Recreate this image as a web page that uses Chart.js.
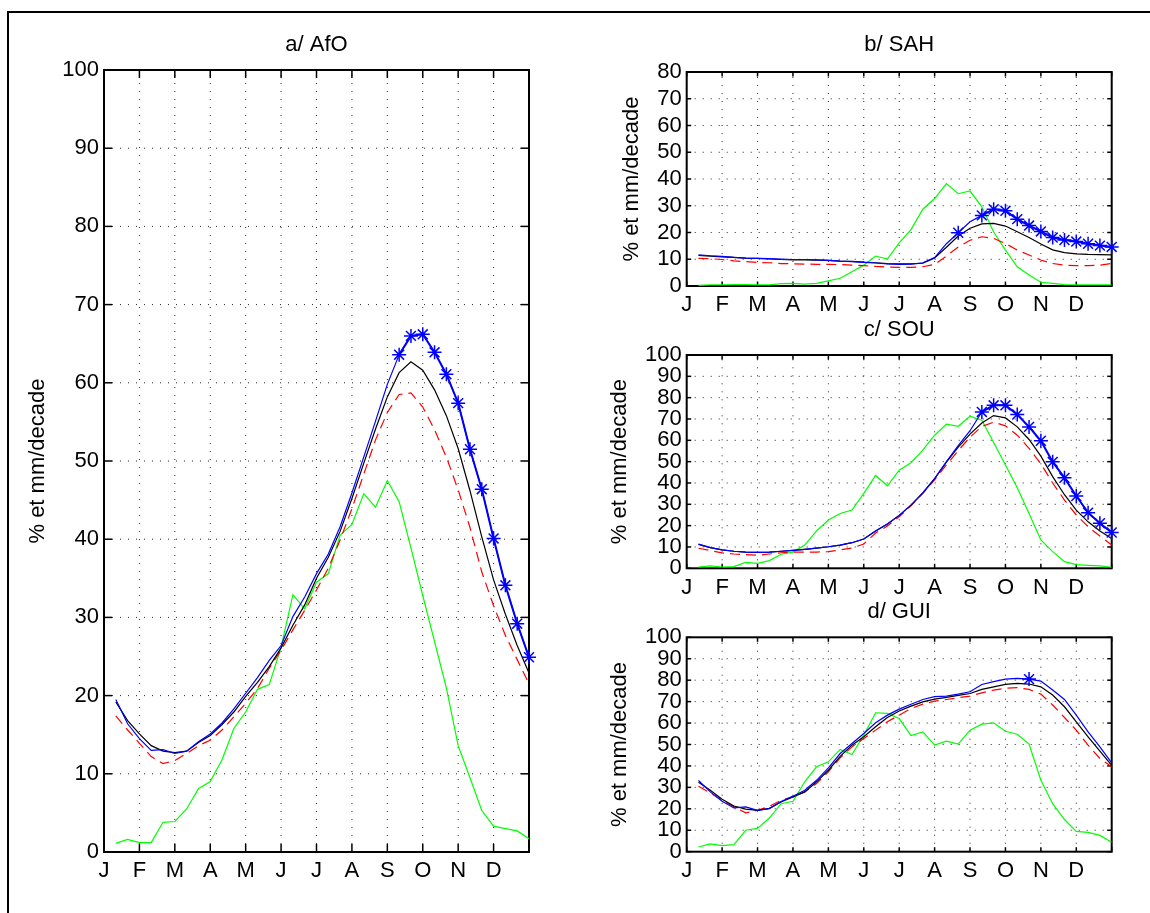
<!DOCTYPE html>
<html><head><meta charset="utf-8">
<script src="https://cdn.jsdelivr.net/npm/chart.js@4.4.1/dist/chart.umd.min.js"></script>
<style>
html,body{margin:0;padding:0;background:#fff;width:1150px;height:913px;overflow:hidden;position:relative;}
canvas{position:absolute;}
#frame{position:absolute;left:7px;top:11px;width:1200px;height:1000px;border-top:2px solid #000;border-left:2px solid #000;box-sizing:border-box;}
</style></head><body>
<div id="frame"></div>
<canvas id="ca" width="560" height="913" style="left:0px;top:0px"></canvas>
<canvas id="cb" width="570" height="330" style="left:580px;top:0px"></canvas>
<canvas id="cc" width="570" height="300" style="left:580px;top:300px"></canvas>
<canvas id="cd" width="570" height="328" style="left:580px;top:585px"></canvas>
<script>
// ---- data ----
const monthLabels = ['J','F','M','A','M','J','J','A','S','O','N','D'];
const decades = [1,2,3,4,5,6,7,8,9,10,11,12,13,14,15,16,17,18,19,20,21,22,23,24,25,26,27,28,29,30,31,32,33,34,35,36];
const yTitle = '% et mm/decade';

// a/ AfO
const greenA = [1.1,1.6,1.2,1.2,3.8,3.9,5.5,8.1,9.0,11.8,15.8,17.9,20.8,21.4,26.2,32.9,31.1,34.5,35.6,40.5,41.9,45.8,44.1,47.5,44.8,38.9,32.8,26.9,21.0,13.6,9.5,5.3,3.3,3.0,2.7,1.7];
const redA   = [17.4,15.6,13.9,12.2,11.3,11.7,12.6,13.6,14.3,15.6,17.3,19.0,20.9,23.5,25.8,28.4,30.9,33.5,36.3,39.9,43.9,48.3,52.7,56.2,58.5,58.7,56.9,54.0,50.5,46.3,41.5,35.8,31.5,27.7,24.6,21.5];
const blackA = [19.2,16.8,15.1,13.6,12.9,12.7,12.9,14.0,14.9,16.3,17.9,19.9,21.7,23.7,26.1,29.0,31.6,35.0,37.7,41.0,45.2,49.7,54.1,58.2,61.3,62.7,61.6,59.1,55.8,51.6,46.2,40.3,34.8,30.4,26.4,22.9];
const blueA  = [19.5,16.4,14.5,13.0,13.1,12.6,12.9,14.1,15.1,16.5,18.3,20.3,22.3,24.5,26.4,30.1,32.6,35.6,38.1,41.6,45.9,50.5,55.1,59.8,63.6,66.0,66.2,63.9,61.1,57.4,51.5,46.4,40.1,34.1,29.2,24.9];
const starsA = [25,26,27,28,29,30,31,32,33,34,35,36];

// b/ SAH
const greenB = [0.25,0.4,0.4,0.5,0.5,0.4,0.4,0.9,1.0,0.7,1.0,1.9,2.9,5.3,7.8,11.2,10.1,16.1,21.1,28.7,32.7,38.3,34.5,35.5,29.6,20.2,13.4,7.2,4.1,1.4,1.0,0.5,0.4,0.4,0.4,0.4];
const redB   = [10.3,10.2,9.9,9.4,9.1,8.8,8.7,8.4,8.3,8.2,8.1,8.1,8.0,7.8,7.6,7.3,7.1,7.0,7.0,7.2,8.1,11.2,14.6,17.1,18.4,17.8,15.9,13.4,11.6,9.7,8.4,7.8,7.6,7.6,7.8,8.4];
const blackB = [11.4,11.2,10.9,10.7,10.4,10.3,10.1,9.9,9.8,9.8,9.7,9.6,9.3,9.2,8.9,8.7,8.4,8.3,8.3,8.5,10.5,14.5,18.7,21.6,23.2,23.4,22.4,20.3,18.1,15.7,13.5,12.5,12.0,11.8,11.7,11.6];
const blueB  = [11.6,11.3,11.1,10.7,10.4,10.3,10.2,10.1,9.9,9.9,9.8,9.6,9.3,9.1,8.8,8.6,8.3,8.1,8.2,8.7,10.6,15.8,19.9,24.0,26.4,28.7,28.1,25.0,22.6,20.4,18.1,17.2,16.6,15.8,15.1,14.6];
const starsB = [23,25,26,27,28,29,30,31,32,33,34,35,36];

// c/ SOU
const greenC = [0.6,1.1,0.6,0.8,2.8,2.3,3.6,6.6,7.6,10.9,17.5,22.6,25.7,27.3,35.1,43.5,38.7,46.0,49.5,55.4,62.4,67.6,66.6,71.3,69.4,59.0,48.4,37.8,25.7,13.3,7.8,3.1,1.7,1.4,1.1,0.5];
const redC   = [9.4,8.3,7.2,6.7,6.4,6.1,6.7,7.3,7.6,7.6,7.6,7.8,8.6,9.5,11.4,16.5,19.8,24.2,29.3,35.2,41.5,48.5,55.2,61.5,66.5,68.5,66.8,62.4,56.2,49.0,40.0,32.0,25.0,19.5,15.1,10.9];
const blackC = [11.2,9.7,8.6,8.0,7.6,7.5,7.6,8.0,8.4,8.9,9.5,10.1,10.9,12.0,13.7,17.5,20.8,24.8,29.6,35.3,42.0,49.8,56.8,62.9,68.1,71.6,70.5,66.3,60.4,52.6,43.0,34.5,27.3,21.8,17.5,14.0];
const blueC  = [11.3,9.7,8.6,8.0,7.6,7.5,7.6,8.0,8.4,8.9,9.5,10.1,10.9,12.0,13.7,17.5,20.8,24.8,29.6,35.3,42.0,50.0,57.5,64.5,73.3,76.4,76.4,72.1,66.3,59.8,49.9,42.4,33.9,26.1,21.1,16.8];
const starsC = [25,26,27,28,29,30,31,32,33,34,35,36];

// d/ GUI
const greenD = [2.2,3.6,2.8,3.3,10.0,10.9,15.7,22.4,23.5,32.6,39.6,41.9,47.7,45.3,54.4,64.8,64.5,62.1,54.2,55.9,49.7,51.6,50.2,56.7,59.5,60.1,56.2,54.8,50.2,33.3,22.4,15.0,9.5,9.0,7.6,4.4];
const redD   = [30.5,27.4,24.0,20.9,18.1,19.3,21.2,24.0,25.5,27.9,31.8,37.2,43.8,48.9,52.8,56.7,60.6,63.7,66.8,68.8,70.2,71.0,71.8,72.6,74.1,75.4,76.2,76.5,75.7,73.5,68.4,62.6,56.7,49.7,43.5,39.6];
const blackD = [32.4,28.7,24.5,21.3,19.9,19.3,20.2,23.2,25.5,27.9,32.6,38.0,44.5,49.7,53.6,58.3,62.6,65.6,67.9,69.9,71.2,72.0,72.9,73.8,75.7,76.9,78.0,78.5,78.2,76.9,73.1,67.6,60.6,53.6,46.9,40.3];
const blueD  = [33.2,27.9,23.5,20.4,20.9,19.3,20.1,23.4,25.9,28.7,33.3,39.1,45.8,50.5,55.1,60.1,63.7,66.5,68.8,71.0,72.3,72.6,73.5,74.6,78.0,79.3,80.5,80.8,80.5,79.6,75.4,71.0,63.7,55.9,48.9,41.4];
const starsD = [29];

// ---- drawing ----
const FONT = "'Liberation Sans', Arial, Helvetica, sans-serif";

const matlabAxes = {
  id: 'matlabAxes',
  beforeDatasetsDraw(chart, args, opts) {
    const {ctx, chartArea: a} = chart;
    const x = chart.scales.x, y = chart.scales.y;
    ctx.save();
    const line = (x1, y1, x2, y2) => { ctx.beginPath(); ctx.moveTo(x1, y1); ctx.lineTo(x2, y2); ctx.stroke(); };
    // dotted grid
    ctx.strokeStyle = 'rgba(0,0,0,0.85)';
    ctx.lineWidth = 1;
    ctx.setLineDash([1, 7]);
    x.ticks.forEach(t => {
      const px = x.getPixelForValue(t.value);
      if (px > a.left + 2 && px < a.right - 2) line(px, a.bottom, px, a.top);
    });
    y.ticks.forEach(t => {
      const py = y.getPixelForValue(t.value);
      if (py > a.top + 2 && py < a.bottom - 2) line(a.left, py, a.right, py);
    });
    ctx.setLineDash([]);
    // inward tick marks on all four sides
    const tl = opts.tickLen || 6;
    ctx.strokeStyle = '#000';
    ctx.lineWidth = 1.5;
    x.ticks.forEach(t => {
      const px = x.getPixelForValue(t.value);
      line(px, a.bottom, px, a.bottom - tl);
      line(px, a.top, px, a.top + tl);
    });
    y.ticks.forEach(t => {
      const py = y.getPixelForValue(t.value);
      line(a.left, py, a.left + tl, py);
      line(a.right, py, a.right - tl, py);
    });
    // box
    ctx.lineWidth = 2;
    ctx.strokeRect(a.left, a.top, a.right - a.left, a.bottom - a.top);
    ctx.restore();
  }
};

function pts(arr) { return decades.map((d, k) => ({x: d, y: arr[k]})); }
function starPts(arr, stars) { return decades.map((d, k) => ({x: d, y: stars.includes(d) ? arr[k] : null})); }

function makeChart(id, c) {
  const canvas = document.getElementById(id);
  return new Chart(canvas, {
    type: 'line',
    data: {
      datasets: [
        {data: starPts(c.blue, c.stars), borderColor: '#0000ff', borderWidth: 2, pointStyle: 'star', pointRadius: 7,
         pointBorderColor: '#0000ff', pointBorderWidth: 1.5, pointBackgroundColor: '#0000ff', spanGaps: false, clip: false, tension: 0},
        {data: pts(c.blue), borderColor: '#0000ff', borderWidth: 1.2, pointRadius: 0, tension: 0},
        {data: pts(c.black), borderColor: '#000000', borderWidth: 1.2, pointRadius: 0, tension: 0},
        {data: pts(c.red), borderColor: '#ff0000', borderWidth: 1.2, borderDash: [10, 6], pointRadius: 0, tension: 0},
        {data: pts(c.green), borderColor: '#00ff00', borderWidth: 1.2, pointRadius: 0, tension: 0}
      ]
    },
    options: {
      responsive: false, animation: false, devicePixelRatio: 1,
      events: [],
      layout: {padding: {top: c.padTop, right: c.padRight, bottom: 0, left: 0}},
      plugins: {
        legend: {display: false},
        tooltip: {enabled: false},
        title: {display: true, text: c.title, fullSize: false, color: '#000',
                font: {family: FONT, size: 22, weight: 'normal'},
                padding: {top: c.tTop, bottom: c.tBottom}},
        matlabAxes: {tickLen: c.tickLen}
      },
      scales: {
        x: {
          type: 'linear', min: 0, max: 36,
          afterFit: s => { s.height = c.xH; },
          grid: {display: false, drawTicks: false},
          border: {display: false},
          ticks: {stepSize: 3, autoSkip: false, maxRotation: 0, minRotation: 0, padding: 6, color: '#000',
                  font: {family: FONT, size: 22},
                  callback: v => (monthLabels[v / 3] !== undefined ? monthLabels[v / 3] : '')}
        },
        y: {
          type: 'linear', min: 0, max: c.yMax,
          afterFit: s => { s.width = c.yW; },
          grid: {display: false, drawTicks: false},
          border: {display: false},
          ticks: {stepSize: 10, autoSkip: false, padding: 5, color: '#000', font: {family: FONT, size: 22}},
          title: {display: true, text: yTitle, color: '#000', font: {family: FONT, size: 22},
                  padding: {top: c.ytPad, bottom: 0}}
        }
      }
    },
    plugins: [matlabAxes]
  });
}

makeChart('ca', {title: 'a/ AfO', green: greenA, red: redA, black: blackA, blue: blueA, stars: starsA,
  yMax: 100, padTop: 20, tTop: 11.8, tBottom: 11.8, padRight: 31, xH: 61, yW: 104, ytPad: 24.8, tickLen: 8});
makeChart('cb', {title: 'b/ SAH', green: greenB, red: redB, black: blackB, blue: blueB, stars: starsB,
  yMax: 80, padTop: 20, tTop: 11.8, tBottom: 13.8, padRight: 38.3, xH: 44, yW: 106.7, ytPad: 38.8, tickLen: 4.5});
makeChart('cc', {title: 'c/ SOU', green: greenC, red: redC, black: blackC, blue: blueC, stars: starsC,
  yMax: 100, padTop: 11.8, tTop: 5, tBottom: 11.8, padRight: 38.3, xH: 31.7, yW: 106.7, ytPad: 26.8, tickLen: 4.5});
makeChart('cd', {title: 'd/ GUI', green: greenD, red: redD, black: blackD, blue: blueD, stars: starsD,
  yMax: 100, padTop: 8.8, tTop: 5, tBottom: 12.1, padRight: 38.3, xH: 61.3, yW: 106.7, ytPad: 26.8, tickLen: 4.5});
</script>
</body></html>
